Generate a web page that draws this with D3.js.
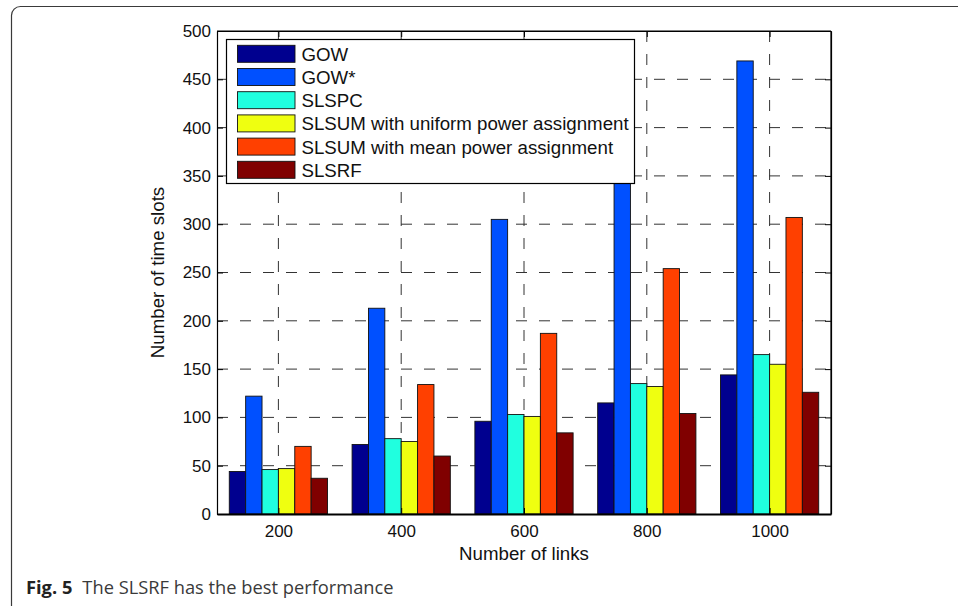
<!DOCTYPE html>
<html>
<head>
<meta charset="utf-8">
<script src="https://cdn.jsdelivr.net/npm/d3@7/dist/d3.min.js"></script>
<style>
  html, body { margin: 0; padding: 0; background: #fff; }
  svg { display: block; }
</style>
</head>
<body>
<svg id="chart" width="958" height="606"></svg>
<script>
// ---- data ----
const categories = [200, 400, 600, 800, 1000];
const seriesNames = ["GOW", "GOW*", "SLSPC", "SLSUM with uniform power assignment", "SLSUM with mean power assignment", "SLSRF"];
const gow       = [44, 72, 96, 115, 144];
const gowStar   = [122, 213, 305, 388, 469];
const slspc     = [46, 78, 103, 135, 165];
const slsumUni  = [47, 75, 101, 132, 155];
const slsumMean = [70, 134, 187, 254, 307];
const slsrf     = [37, 60, 84, 104, 126];
const seriesValues = [gow, gowStar, slspc, slsumUni, slsumMean, slsrf];
const colors = ["#00008F", "#0050FF", "#20FFDF", "#EFFF10", "#FF4000", "#800000"];
const yTicks = [0, 50, 100, 150, 200, 250, 300, 350, 400, 450, 500];
const xLabel = "Number of links";
const yLabel = "Number of time slots";
const captionBold = "Fig. 5";
const captionText = "The SLSRF has the best performance";

// ---- layout ----
const svg = d3.select("#chart");
const L = 217, R = 831, T = 31, B = 514;
const x = d3.scaleLinear().domain([100, 1100]).range([L, R]);
const y = d3.scaleLinear().domain([0, 500]).range([B, T]);
const font = "Liberation Sans, Arial, Helvetica, sans-serif";

// outer frame
svg.append("rect")
  .attr("x", 11.5).attr("y", 6.5).attr("width", 1000).attr("height", 640)
  .attr("rx", 9).attr("ry", 9)
  .attr("fill", "none").attr("stroke", "#3a3a3a").attr("stroke-width", 1.2);

// grid
const grid = svg.append("g");
grid.selectAll("line.h").data(yTicks.filter(d => d > 0 && d < 500)).join("line")
  .attr("x1", L).attr("x2", R).attr("y1", d => y(d)).attr("y2", d => y(d))
  .attr("stroke", "#333").attr("stroke-width", 1).attr("stroke-dasharray", "11,12");
grid.selectAll("line.v").data(categories).join("line")
  .attr("x1", d => x(d)).attr("x2", d => x(d)).attr("y1", T).attr("y2", B)
  .attr("stroke", "#333").attr("stroke-width", 1).attr("stroke-dasharray", "11,12");

// bars
const groupW = 0.8 * 200;
const barW = groupW / seriesNames.length;
seriesValues.forEach((vals, i) => {
  svg.append("g").selectAll("rect").data(vals).join("rect")
    .attr("x", (d, j) => x(categories[j] - groupW / 2 + i * barW))
    .attr("width", x(barW) - x(0))
    .attr("y", d => y(d))
    .attr("height", d => y(0) - y(d))
    .attr("fill", colors[i])
    .attr("stroke", "#111").attr("stroke-width", 0.9);
});

// axes
const yAxis = d3.axisLeft(y).tickValues(yTicks).tickSizeInner(-6).tickSizeOuter(0).tickPadding(6).tickFormat(d3.format("d"));
const gy = svg.append("g").attr("transform", `translate(${L},0)`).call(yAxis);
const yAxisR = d3.axisRight(y).tickValues(yTicks).tickSizeInner(-6).tickSizeOuter(0).tickFormat("");
svg.append("g").attr("transform", `translate(${R},0)`).call(yAxisR);
const xAxis = d3.axisBottom(x).tickValues(categories).tickSizeInner(-6).tickSizeOuter(0).tickPadding(11).tickFormat(d3.format("d"));
const gx = svg.append("g").attr("transform", `translate(0,${B})`).call(xAxis);
const xAxisT = d3.axisTop(x).tickValues(categories).tickSizeInner(-6).tickSizeOuter(0).tickFormat("");
svg.append("g").attr("transform", `translate(0,${T})`).call(xAxisT);

svg.selectAll(".domain").attr("stroke", "#000").attr("stroke-width", 1.2);
svg.selectAll(".tick line").attr("stroke", "#000").attr("stroke-width", 1);
svg.selectAll(".tick text").attr("font-family", font).attr("font-size", 17).attr("fill", "#111");
gx.select(".domain").attr("stroke-width", 2);

// box (top and right edges)
svg.append("line").attr("x1", L).attr("x2", R).attr("y1", T).attr("y2", T).attr("stroke", "#000").attr("stroke-width", 1.2);
svg.append("line").attr("x1", R).attr("x2", R).attr("y1", T).attr("y2", B).attr("stroke", "#000").attr("stroke-width", 1.2);

// axis labels
svg.append("text").attr("x", (L + R) / 2).attr("y", 560).attr("text-anchor", "middle")
  .attr("font-family", font).attr("font-size", 18.7).attr("fill", "#111").text(xLabel);
svg.append("text").attr("transform", `translate(163.5,${(T + B) / 2}) rotate(-90)`).attr("text-anchor", "middle")
  .attr("font-family", font).attr("font-size", 18.7).attr("fill", "#111").text(yLabel);

// legend
const lg = svg.append("g");
lg.append("rect").attr("x", 226.5).attr("y", 39.5).attr("width", 408).attr("height", 144)
  .attr("fill", "#fff").attr("stroke", "#000").attr("stroke-width", 1.2);
const rowY0 = 53.8, rowDy = 23.2;
seriesNames.forEach((name, i) => {
  const cy = rowY0 + i * rowDy;
  lg.append("rect").attr("x", 237.5).attr("y", cy - 8.5).attr("width", 57.5).attr("height", 17)
    .attr("fill", colors[i]).attr("stroke", "#111").attr("stroke-width", 0.9);
  lg.append("text").attr("x", 301.5).attr("y", cy + 6.9)
    .attr("font-family", font).attr("font-size", 18.7).attr("fill", "#111").text(name);
});

// caption
const cap = svg.append("text").attr("x", 26).attr("y", 594)
  .attr("font-family", "Open Sans, Noto Sans, sans-serif").attr("font-size", 18.3).attr("fill", "#3a3a3a");
cap.append("tspan").attr("font-weight", "bold").attr("fill", "#222").text(captionBold);
cap.append("tspan").attr("dx", 10).text(captionText);
</script>
</body>
</html>
